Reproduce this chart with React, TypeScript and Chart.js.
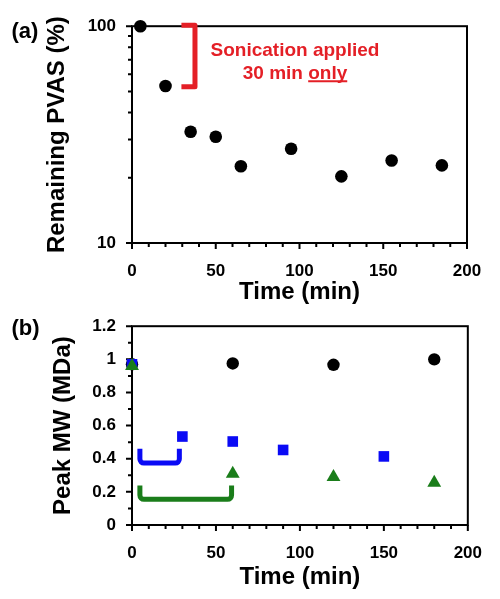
import React, { useEffect, useRef } from 'react';
import { Chart, registerables } from 'chart.js';

Chart.register(...registerables);

// ---------- Data: panel (a) ----------
const remainTime = [5, 20, 35, 50, 65, 95, 125, 155, 185];
const remainPct = [100, 53, 32.6, 30.9, 22.6, 27.2, 20.3, 24.0, 22.8];
const timeTicks = [0, 50, 100, 150, 200];
const timeMinor = [10, 20, 30, 40, 60, 70, 80, 90, 110, 120, 130, 140, 160, 170, 180, 190];
const pctTicks = [10, 100];
const pctMinor = [20, 30, 40, 50, 60, 70, 80, 90];
const redBracketTime = [29.5, 37.6];
const redBracketPct = [101, 52.5];
const noteLine1 = 'Sonication applied';
const noteLine2 = '30 min ';
const noteUnderlined = 'only';
const noteTime = 97.3;
const notePct = 72.6;

// ---------- Data: panel (b) ----------
const controlTime = [0, 60, 120, 180];
const controlMW = [0.97, 0.975, 0.967, 1.0];
const sonic30Time = [0, 30, 60, 90, 150];
const sonic30MW = [0.97, 0.534, 0.504, 0.453, 0.414];
const sonic60Time = [0, 60, 120, 180];
const sonic60MW = [0.96, 0.31, 0.29, 0.255];
const mwTicks = [0, 0.2, 0.4, 0.6, 0.8, 1, 1.2];
const mwMinor = [0.1, 0.3, 0.5, 0.7, 0.9, 1.1];
const blueBracketTime = [4.7, 28.2];
const blueBracketMW = [0.46, 0.374];
const greenBracketTime = [4.7, 59.3];
const greenBracketMW = [0.239, 0.155];

const FONT = "'Liberation Sans', Arial, Helvetica, sans-serif";
const RED = '#e41f26';
const BLUE = '#0a0af5';
const GREEN = '#1a7d1a';

const toPts = (xs: number[], ys: number[]) => xs.map((x, i) => ({ x, y: ys[i] }));

function frameTicksPlugin(xMajor: number[], xMinor: number[], yMajor: number[], yMinor: number[]) {
  return {
    id: 'frameTicks',
    beforeDatasetsDraw(chart: any) {
      const { ctx, chartArea: a, scales } = chart;
      const x = scales.x;
      const y = scales.y;
      ctx.save();
      ctx.strokeStyle = '#000';
      ctx.lineWidth = 2;
      ctx.strokeRect(a.left, a.top, a.right - a.left, a.bottom - a.top);
      ctx.beginPath();
      const addX = (v: number, len: number) => {
        const px = x.getPixelForValue(v);
        ctx.moveTo(px, a.bottom);
        ctx.lineTo(px, a.bottom + len);
      };
      const addY = (v: number, len: number) => {
        const py = y.getPixelForValue(v);
        ctx.moveTo(a.left, py);
        ctx.lineTo(a.left - len, py);
      };
      xMajor.forEach((v) => addX(v, 6));
      xMinor.forEach((v) => addX(v, 4));
      yMajor.forEach((v) => addY(v, 6));
      yMinor.forEach((v) => addY(v, 4));
      ctx.stroke();
      ctx.restore();
    },
  };
}

function baseScaleX(tickPad: number, titlePadBottom: number, height: number) {
  return {
    type: 'linear',
    min: 0,
    max: 200,
    afterBuildTicks: (s: any) => {
      s.ticks = timeTicks.map((v) => ({ value: v }));
    },
    afterFit: (s: any) => {
      s.height = height;
    },
    grid: { display: false, drawTicks: false },
    border: { display: false },
    ticks: {
      padding: tickPad,
      color: '#000',
      font: { family: FONT, size: 17, weight: 'bold' },
      maxRotation: 0,
      autoSkip: false,
      callback: (v: any) => String(v),
    },
    title: {
      display: true,
      text: 'Time (min)',
      color: '#000',
      font: { family: FONT, size: 24, weight: 'bold' },
      padding: { top: 0, bottom: titlePadBottom },
    },
  };
}

function topConfig(): any {
  const annot = {
    id: 'annotA',
    afterDraw(chart: any) {
      const { ctx, scales } = chart;
      const x = scales.x;
      const y = scales.y;
      ctx.save();
      // red bracket
      ctx.strokeStyle = RED;
      ctx.lineWidth = 5;
      ctx.lineJoin = 'round';
      ctx.beginPath();
      ctx.moveTo(x.getPixelForValue(redBracketTime[0]), y.getPixelForValue(redBracketPct[0]));
      ctx.lineTo(x.getPixelForValue(redBracketTime[1]), y.getPixelForValue(redBracketPct[0]));
      ctx.lineTo(x.getPixelForValue(redBracketTime[1]), y.getPixelForValue(redBracketPct[1]));
      ctx.lineTo(x.getPixelForValue(redBracketTime[0]), y.getPixelForValue(redBracketPct[1]));
      ctx.stroke();
      // note text
      ctx.fillStyle = RED;
      ctx.font = `bold 19px ${FONT}`;
      ctx.textBaseline = 'alphabetic';
      const cx = x.getPixelForValue(noteTime);
      const by = y.getPixelForValue(notePct);
      ctx.textAlign = 'center';
      ctx.fillText(noteLine1, cx, by);
      ctx.textAlign = 'left';
      const w1 = ctx.measureText(noteLine2).width;
      const w2 = ctx.measureText(noteUnderlined).width;
      const sx = cx - (w1 + w2) / 2;
      const by2 = by + 22.4;
      ctx.fillText(noteLine2, sx, by2);
      ctx.fillText(noteUnderlined, sx + w1, by2);
      ctx.fillRect(sx + w1, by2 + 1.5, w2, 2);
      // panel label
      ctx.fillStyle = '#000';
      ctx.font = `bold 22px ${FONT}`;
      ctx.fillText('(a)', 11.5, 37.5);
      ctx.restore();
    },
  };
  return {
    type: 'scatter',
    data: {
      datasets: [
        {
          data: toPts(remainTime, remainPct),
          pointStyle: 'circle',
          pointRadius: 6.3,
          pointHoverRadius: 6.3,
          pointBackgroundColor: '#000',
          pointBorderWidth: 0,
          showLine: false,
          clip: false,
        },
      ],
    },
    options: {
      responsive: false,
      maintainAspectRatio: false,
      animation: false,
      devicePixelRatio: 1,
      events: [],
      layout: { padding: { left: 0, top: 18, right: 33, bottom: 0 } },
      plugins: { legend: { display: false }, tooltip: { enabled: false } },
      scales: {
        x: baseScaleX(18, 0, 64),
        y: {
          type: 'logarithmic',
          min: 10,
          max: 100,
          afterBuildTicks: (s: any) => {
            s.ticks = pctTicks.map((v) => ({ value: v }));
          },
          afterFit: (s: any) => {
            s.width = 132;
          },
          grid: { display: false, drawTicks: false },
          border: { display: false },
          ticks: {
            padding: 16,
            color: '#000',
            font: { family: FONT, size: 17, weight: 'bold' },
            callback: (v: any) => String(v),
          },
          title: {
            display: true,
            text: 'Remaining PVAS (%)',
            color: '#000',
            font: { family: FONT, size: 24, weight: 'bold' },
            padding: { top: 43, bottom: 0 },
          },
        },
      },
    },
    plugins: [frameTicksPlugin(timeTicks, timeMinor, pctTicks, pctMinor), annot],
  };
}

function bottomConfig(): any {
  const annot = {
    id: 'annotB',
    beforeDatasetsDraw(chart: any) {
      const { ctx, scales } = chart;
      const x = scales.x;
      const y = scales.y;
      const bracket = (ts: number[], vs: number[], color: string) => {
        const x0 = x.getPixelForValue(ts[0]);
        const x1 = x.getPixelForValue(ts[1]);
        const yt = y.getPixelForValue(vs[0]);
        const yb = y.getPixelForValue(vs[1]);
        ctx.strokeStyle = color;
        ctx.lineWidth = 5;
        ctx.lineJoin = 'round';
        ctx.beginPath();
        ctx.moveTo(x0, yt);
        ctx.arcTo(x0, yb, x1, yb, 4);
        ctx.arcTo(x1, yb, x1, yt, 4);
        ctx.lineTo(x1, yt);
        ctx.stroke();
      };
      ctx.save();
      bracket(blueBracketTime, blueBracketMW, BLUE);
      bracket(greenBracketTime, greenBracketMW, GREEN);
      ctx.restore();
    },
    afterDraw(chart: any) {
      const { ctx } = chart;
      ctx.save();
      ctx.fillStyle = '#000';
      ctx.font = `bold 22px ${FONT}`;
      ctx.textAlign = 'left';
      ctx.textBaseline = 'alphabetic';
      ctx.fillText('(b)', 11.5, 34.7);
      ctx.restore();
    },
  };
  const ds = (xs: number[], ys: number[], style: string, r: number, color: string) => ({
    data: toPts(xs, ys),
    pointStyle: style,
    pointRadius: r,
    pointHoverRadius: r,
    pointBackgroundColor: color,
    pointBorderWidth: 0,
    showLine: false,
    clip: false,
  });
  return {
    type: 'scatter',
    data: {
      datasets: [
        ds(sonic60Time, sonic60MW, 'triangle', 8, GREEN),
        ds(sonic30Time, sonic30MW, 'rect', 7.5, BLUE),
        ds(controlTime, controlMW, 'circle', 6.2, '#000'),
      ],
    },
    options: {
      responsive: false,
      maintainAspectRatio: false,
      animation: false,
      devicePixelRatio: 1,
      events: [],
      layout: { padding: { left: 0, top: 24, right: 27, bottom: 0 } },
      plugins: { legend: { display: false }, tooltip: { enabled: false } },
      scales: {
        x: baseScaleX(18, 7, 74),
        y: {
          type: 'linear',
          min: 0,
          max: 1.2,
          afterBuildTicks: (s: any) => {
            s.ticks = mwTicks.map((v) => ({ value: v }));
          },
          afterFit: (s: any) => {
            s.width = 132;
          },
          grid: { display: false, drawTicks: false },
          border: { display: false },
          ticks: {
            padding: 16,
            color: '#000',
            font: { family: FONT, size: 17, weight: 'bold' },
            callback: (v: any) => String(parseFloat(Number(v).toFixed(1))),
          },
          title: {
            display: true,
            text: 'Peak MW (MDa)',
            color: '#000',
            font: { family: FONT, size: 24, weight: 'bold' },
            padding: { top: 49, bottom: 0 },
          },
        },
      },
    },
    plugins: [frameTicksPlugin(timeTicks, timeMinor, mwTicks, mwMinor), annot],
  };
}

export default function App() {
  const topRef = useRef<HTMLCanvasElement>(null);
  const botRef = useRef<HTMLCanvasElement>(null);
  useEffect(() => {
    const c1 = new Chart(topRef.current as HTMLCanvasElement, topConfig());
    const c2 = new Chart(botRef.current as HTMLCanvasElement, bottomConfig());
    return () => {
      c1.destroy();
      c2.destroy();
    };
  }, []);
  return (
    <div style={{ position: 'absolute', left: 0, top: 0, width: 500, height: 599, background: '#fff' }}>
      <canvas
        ref={topRef}
        width={500}
        height={307}
        style={{ position: 'absolute', left: 0, top: 0, width: 500, height: 307 }}
      />
      <canvas
        ref={botRef}
        width={500}
        height={299}
        style={{ position: 'absolute', left: 0, top: 300, width: 500, height: 299 }}
      />
    </div>
  );
}
